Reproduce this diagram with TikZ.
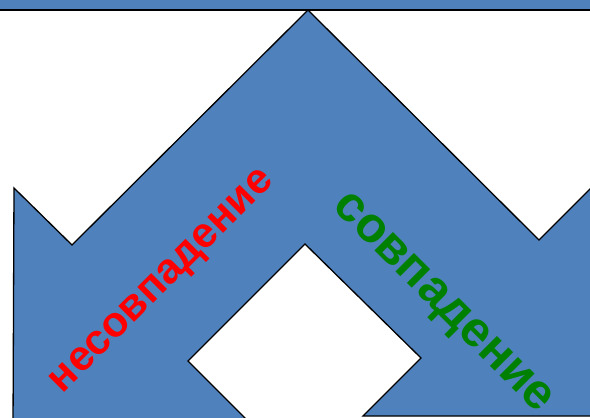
\documentclass[tikz,border=0pt]{standalone}
\usepackage{fontspec}
\setmainfont{Liberation Sans}
\definecolor{shapeblue}{HTML}{4F81BD}
\definecolor{okgreen}{HTML}{008000}
\tikzset{
  blueshape/.style={fill=shapeblue, draw=black, line width=1.3pt, line join=miter},
  labeltext/.style={font=\bfseries, inner sep=0pt, anchor=base}
}
\begin{document}
\begin{tikzpicture}[x=1pt,y=-1pt]
\useasboundingbox (0,0) rectangle (590,418);
\clip (0,0) rectangle (590,418);
% top band
\path[blueshape] (-10,-10) rectangle (600,10);
% main shape with diamond notch
\path[blueshape] (13,430) -- (14,188) -- (72,245) -- (308,10) -- (539,240) -- (600,179)
  -- (600,416) -- (363,416) -- (421,358) -- (305,244) -- (188,361) -- (257,430) -- cycle;
\node[labeltext, text=red, rotate=45, font=\fontsize{42.5}{42.5}\selectfont\bfseries] (neq) at (169,288) {несовпадение};
\node[labeltext, text=okgreen, rotate=-45, font=\fontsize{49.5}{49.5}\selectfont\bfseries] (eq) at (435,311) {совпадение};
\end{tikzpicture}
\end{document}
